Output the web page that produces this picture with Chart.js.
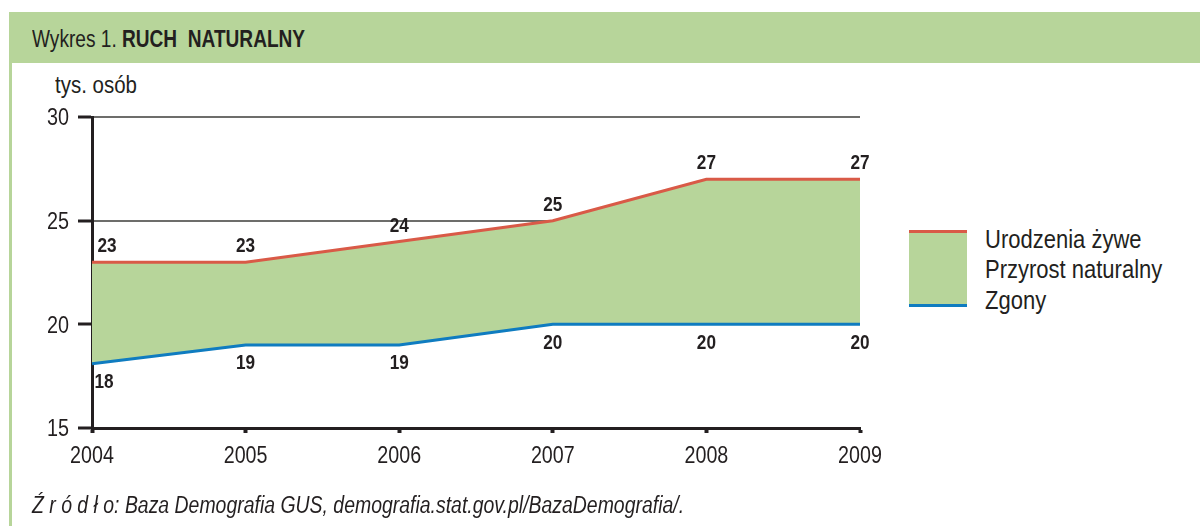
<!DOCTYPE html>
<html>
<head>
<meta charset="utf-8">
<script src="https://cdn.jsdelivr.net/npm/chart.js@4.4.1/dist/chart.umd.min.js"></script>
<style>
  html, body { margin: 0; padding: 0; background: #fff; }
  body { width: 1200px; height: 526px; position: relative; overflow: hidden;
         font-family: "Liberation Sans", Arial, sans-serif; color: #231f20; }
  .txt { position: absolute; white-space: pre; transform-origin: left top; }
  #band { position: absolute; left: 9px; top: 12px; width: 1191px; height: 51px; background: #b7d59a; }
  #border { position: absolute; left: 9px; top: 12px; width: 3px; height: 514px; background: #b7d59a; }
  #wrap { position: absolute; left: 0; top: 0; width: 900px; height: 526px; }
  #sym { position: absolute; left: 909px; top: 230px; width: 58px; height: 71px; background: #b7d59a;
         border-top: 3px solid #d95a47; border-bottom: 3px solid #0f7cc0; }
</style>
</head>
<body>
<div id="band"></div>
<div id="border"></div>
<div class="txt" style="left:32px; top:27.5px; font-size:23px; line-height:23px; transform:scaleX(0.83)">Wykres 1. <b>RUCH  NATURALNY</b></div>
<div class="txt" style="left:55px; top:73.5px; font-size:23px; line-height:23px; transform:scaleX(0.89)">tys. osób</div>
<div id="wrap"><canvas id="c"></canvas></div>
<div id="sym"></div>
<div class="txt" style="left:985px; top:226.8px; font-size:25px; line-height:25px; transform:scaleX(0.88)">Urodzenia żywe</div>
<div class="txt" style="left:985px; top:256.8px; font-size:25px; line-height:25px; transform:scaleX(0.88)">Przyrost naturalny</div>
<div class="txt" style="left:985px; top:287.8px; font-size:25px; line-height:25px; transform:scaleX(0.88)">Zgony</div>
<div class="txt" style="left:32px; top:493.5px; font-size:23px; line-height:23px; font-style:italic; transform:scaleX(0.845)">Ź r ó d ł o: Baza Demografia GUS, demografia.stat.gov.pl/BazaDemografia/.</div>
<script>
const years = ["2004", "2005", "2006", "2007", "2008", "2009"];
const urodzenia = [23.0, 23.0, 24.0, 25.0, 27.0, 27.0];
const zgony = [18.1, 19.0, 19.0, 20.0, 20.0, 20.0];
const urodzeniaLabels = ["23", "23", "24", "25", "27", "27"];
const zgonyLabels = ["18", "19", "19", "20", "20", "20"];
const yTicks = [15, 20, 25, 30];

const FONT = "'Liberation Sans', Arial, sans-serif";
const INK = '#231f20';

function drawSquished(ctx, text, x, y, sx) {
  ctx.save();
  ctx.translate(x, y);
  ctx.scale(sx, 1);
  ctx.fillText(text, 0, 0);
  ctx.restore();
}

const textLayer = {
  id: 'textLayer',
  afterDatasetsDraw(chart) {
    const ctx = chart.ctx;
    ctx.save();
    ctx.fillStyle = INK;
    ctx.textBaseline = 'alphabetic';
    ctx.textAlign = 'center';
    // value labels
    ctx.font = "bold 20px " + FONT;
    const metaZ = chart.getDatasetMeta(0);
    const metaU = chart.getDatasetMeta(1);
    metaU.data.forEach((pt, i) => {
      const dx = i === 0 ? 15 : 0;
      drawSquished(ctx, urodzeniaLabels[i], pt.x + dx, pt.y - 17 + 7.2, 0.86);
    });
    metaZ.data.forEach((pt, i) => {
      const dx = i === 0 ? 12 : 0;
      drawSquished(ctx, zgonyLabels[i], pt.x + dx, pt.y + 17 + 7.2, 0.86);
    });
    ctx.restore();
  },
  afterDraw(chart) {
    const ctx = chart.ctx;
    const xs = chart.scales.x, ys = chart.scales.y;
    ctx.save();
    ctx.fillStyle = INK;
    ctx.textBaseline = 'alphabetic';
    ctx.font = "23px " + FONT;
    ctx.textAlign = 'right';
    ys.ticks.forEach((t, i) => {
      drawSquished(ctx, String(t.value), chart.chartArea.left - 23, ys.getPixelForTick(i) + 8.2, 0.86);
    });
    ctx.font = "24px " + FONT;
    ctx.textAlign = 'center';
    xs.ticks.forEach((t, i) => {
      drawSquished(ctx, xs.getLabelForValue(t.value), xs.getPixelForTick(i), chart.chartArea.bottom + 35, 0.82);
    });
    ctx.restore();
  }
};

new Chart(document.getElementById('c'), {
  type: 'line',
  data: {
    labels: years,
    datasets: [
      {
        label: 'Zgony',
        data: zgony,
        borderColor: '#0f7cc0',
        borderWidth: 3,
        pointRadius: 0,
        fill: false,
        tension: 0
      },
      {
        label: 'Urodzenia żywe',
        data: urodzenia,
        borderColor: '#d95a47',
        borderWidth: 3,
        pointRadius: 0,
        backgroundColor: '#b7d59a',
        fill: { target: 0 },
        tension: 0
      }
    ]
  },
  options: {
    responsive: true,
    maintainAspectRatio: false,
    animation: false,
    events: [],
    layout: { padding: { left: 0, top: 117, right: 40, bottom: 0 } },
    plugins: { legend: { display: false }, tooltip: { enabled: false } },
    scales: {
      x: {
        type: 'category',
        offset: false,
        afterFit(s) { s.height = 98; },
        grid: { color: 'rgba(0,0,0,0)', drawTicks: true, tickLength: 5, tickColor: INK, tickWidth: 4 },
        border: { display: true, color: INK, width: 3 },
        ticks: { color: 'rgba(0,0,0,0)', font: { family: FONT, size: 20 }, padding: 6, maxRotation: 0 }
      },
      y: {
        min: 15, max: 30,
        afterFit(s) { s.width = 92; },
        afterBuildTicks(s) { s.ticks = yTicks.map(v => ({ value: v })); },
        grid: {
          color: (c) => (c.tick && (c.tick.value === 30 || c.tick.value === 25)) ? '#6d6d6b' : 'rgba(0,0,0,0)',
          lineWidth: 2,
          drawTicks: true, tickLength: 14, tickColor: INK, tickWidth: 3
        },
        border: { display: true, color: INK, width: 3 },
        ticks: { color: 'rgba(0,0,0,0)', font: { family: FONT, size: 20 }, padding: 6 }
      }
    }
  },
  plugins: [textLayer]
});
</script>
</body>
</html>
